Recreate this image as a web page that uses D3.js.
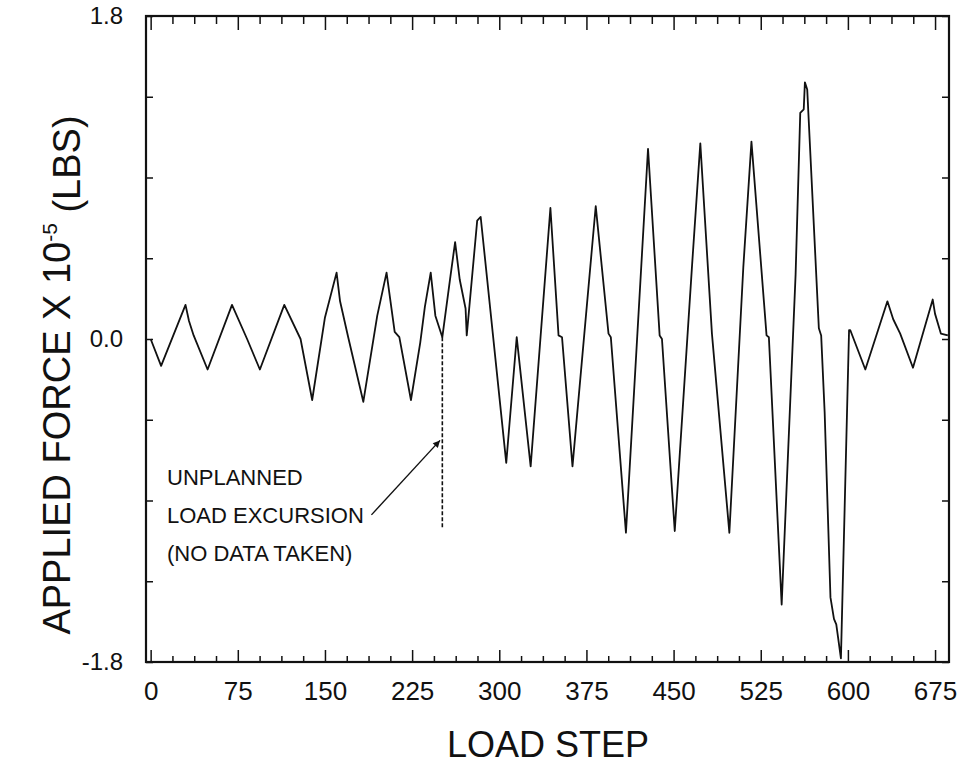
<!DOCTYPE html>
<html>
<head>
<meta charset="utf-8">
<script src="https://cdn.jsdelivr.net/npm/d3@7/dist/d3.min.js"></script>
<style>
  body { margin: 0; background: #fff; }
  text { font-family: "Liberation Sans", Arial, sans-serif; fill: #111; }
</style>
</head>
<body>
<div id="chart"></div>
<script>
// load step and applied force (x 10^5 lbs)
const steps = [0, 9, 30, 33, 37, 49, 70, 83, 94, 115, 129, 139, 150, 160, 163, 170, 183, 195, 203, 210,
  214, 224, 232, 236, 241, 245, 251, 258, 262, 266, 271, 272, 281, 284, 306, 315, 327, 344, 351, 354,
  363, 383, 394, 396, 409, 428, 438, 440, 451, 466, 473, 483, 498, 510, 517, 530, 532, 543, 555, 559,
  562, 563, 565, 575, 577, 580, 585, 588, 590, 594, 601, 602, 615, 634, 639, 645, 656, 673, 675, 680, 686];
const force = [0.0, -0.15, 0.19, 0.1, 0.02, -0.17, 0.19, 0.0, -0.17, 0.19, 0.0, -0.34, 0.12, 0.37, 0.21, 0.01, -0.35, 0.13, 0.37, 0.04,
  0.01, -0.34, -0.02, 0.18, 0.37, 0.13, 0.01, 0.35, 0.54, 0.33, 0.17, 0.02, 0.66, 0.68, -0.69, 0.01, -0.71, 0.73, 0.02, 0.01,
  -0.71, 0.74, 0.03, 0.01, -1.08, 1.06, 0.02, 0.0, -1.07, 0.42, 1.09, 0.03, -1.08, 0.4, 1.1, 0.02, 0.01, -1.48, 0.36, 1.26,
  1.28, 1.43, 1.39, 0.06, 0.02, -0.41, -1.44, -1.56, -1.59, -1.78, 0.05, 0.05, -0.17, 0.21, 0.11, 0.03, -0.16, 0.22, 0.14, 0.03, 0.02];

// unplanned excursion (dashed) and the arrow pointing at it
const excursionStep = 251;
const excursionForce = [0.01, -1.05];
const arrowFrom = [190, -0.98];
const arrowTo = [249, -0.565];
const noteLines = ["UNPLANNED", "LOAD EXCURSION", "(NO DATA TAKEN)"];

const xTickLabels = [0, 75, 150, 225, 300, 375, 450, 525, 600, 675];
const yTickLabels = [1.8, 0.0, -1.8];

const margin = {top: 16, right: 12, bottom: 102, left: 146},
  width = 961 - margin.left - margin.right,
  height = 764 - margin.top - margin.bottom;

const svg = d3.select("#chart")
  .append("svg")
  .attr("width", 961)
  .attr("height", 764)
  .append("g")
  .attr("transform", `translate(${margin.left}, ${margin.top})`);

const x = d3.scaleLinear().domain([-4, 687]).range([0, width]);
const y = d3.scaleLinear().domain([-1.8, 1.8]).range([height, 0]);

const minorX = d3.range(0, 687, 18.75).filter(d => d % 75 !== 0);
const yTicks = d3.range(-4, 5).map(d => d * 0.45);

// bottom axis: inward ticks, labels below
svg.append("g")
  .attr("transform", `translate(0, ${height})`)
  .call(d3.axisBottom(x).tickValues(minorX).tickSize(-6).tickFormat(""));
const bottomMajor = svg.append("g")
  .attr("transform", `translate(0, ${height})`)
  .call(d3.axisBottom(x).tickValues(xTickLabels).tickSize(-12).tickPadding(20).tickFormat(d3.format("d")));
bottomMajor.selectAll("text").style("font-size", "26px");

// top axis: ticks only
svg.append("g")
  .call(d3.axisTop(x).tickValues(minorX).tickSize(-8).tickFormat(""));
svg.append("g")
  .call(d3.axisTop(x).tickValues(xTickLabels).tickSize(-14).tickFormat(""));

// left axis
const leftAxis = svg.append("g")
  .call(d3.axisLeft(y).tickValues(yTicks).tickSize(-7).tickPadding(23)
    .tickFormat(d => yTickLabels.some(v => Math.abs(v - d) < 1e-6) ? d.toFixed(1) : ""));
leftAxis.selectAll("text").style("font-size", "24px");

// right axis
svg.append("g")
  .attr("transform", `translate(${width}, 0)`)
  .call(d3.axisRight(y).tickValues(yTicks).tickSize(-7).tickFormat(""));

svg.selectAll(".domain").remove();
svg.selectAll(".tick line").attr("stroke", "#111").attr("stroke-width", 1.5);

// frame
svg.append("rect")
  .attr("width", width)
  .attr("height", height)
  .attr("fill", "none")
  .attr("stroke", "#111")
  .attr("stroke-width", 2.2);

// load history
const line = d3.line()
  .x((d, i) => x(steps[i]))
  .y(d => y(d));

svg.append("path")
  .datum(force)
  .attr("d", line)
  .attr("fill", "none")
  .attr("stroke", "#111")
  .attr("stroke-width", 1.8)
  .attr("stroke-linejoin", "round");

// dashed excursion
svg.append("line")
  .attr("x1", x(excursionStep)).attr("x2", x(excursionStep))
  .attr("y1", y(excursionForce[0])).attr("y2", y(excursionForce[1]))
  .attr("stroke", "#111")
  .attr("stroke-width", 1.6)
  .attr("stroke-dasharray", "4,2");

// arrow
svg.append("defs").append("marker")
  .attr("id", "head")
  .attr("viewBox", "0 0 10 10")
  .attr("refX", 10).attr("refY", 5)
  .attr("markerWidth", 10).attr("markerHeight", 7)
  .attr("markerUnits", "userSpaceOnUse")
  .attr("orient", "auto")
  .append("path")
  .attr("d", "M0,0 L10,5 L0,10 z")
  .attr("fill", "#111");

svg.append("line")
  .attr("x1", x(arrowFrom[0])).attr("y1", y(arrowFrom[1]))
  .attr("x2", x(arrowTo[0])).attr("y2", y(arrowTo[1]))
  .attr("stroke", "#111")
  .attr("stroke-width", 1.4)
  .attr("marker-end", "url(#head)");

// note text
svg.append("g")
  .selectAll("text")
  .data(noteLines)
  .join("text")
  .attr("x", 21)
  .attr("y", (d, i) => 469 + i * 38)
  .style("font-size", "22px")
  .text(d => d);

// axis titles
svg.append("text")
  .attr("x", x(342))
  .attr("y", 741)
  .attr("text-anchor", "middle")
  .style("font-size", "36px")
  .text("LOAD STEP");

const yTitle = svg.append("text")
  .attr("transform", `translate(${-76}, ${height / 2 + 36}) rotate(-90)`)
  .attr("text-anchor", "middle")
  .style("font-size", "38px");
yTitle.append("tspan").text("APPLIED FORCE X 10");
yTitle.append("tspan").attr("dy", "-0.6em").style("font-size", "21px").text("-5");
yTitle.append("tspan").attr("dy", "0.6em").text(" (LBS)");
</script>
</body>
</html>
